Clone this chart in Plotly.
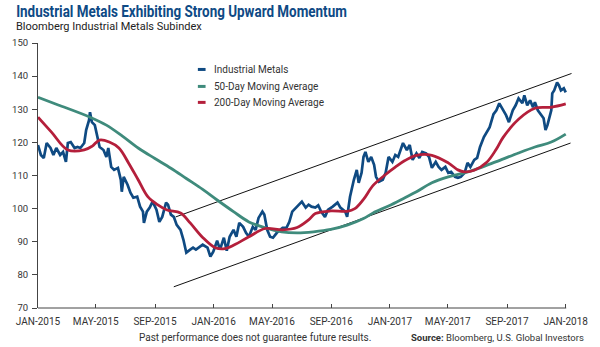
import plotly.graph_objects as go

# ---------------- DATA ----------------
metal_dates = [
    "2015-01-01", "2015-01-07", "2015-01-13", "2015-01-19", "2015-01-27", "2015-02-02", "2015-02-08",
    "2015-02-16", "2015-02-22", "2015-02-28", "2015-03-04", "2015-03-10", "2015-03-18", "2015-03-24",
    "2015-03-30", "2015-04-07", "2015-04-11", "2015-04-17", "2015-04-19", "2015-04-23", "2015-04-29",
    "2015-05-05", "2015-05-09", "2015-05-17", "2015-05-23", "2015-05-27", "2015-06-02", "2015-06-08",
    "2015-06-16", "2015-06-22", "2015-06-24", "2015-06-28", "2015-07-06", "2015-07-12", "2015-07-18",
    "2015-07-26", "2015-08-01", "2015-08-07", "2015-08-09", "2015-08-15", "2015-08-21", "2015-08-27",
    "2015-09-04", "2015-09-10", "2015-09-16", "2015-09-24", "2015-09-28", "2015-10-04", "2015-10-10",
    "2015-10-16", "2015-10-24", "2015-10-30", "2015-11-05", "2015-11-13", "2015-11-19", "2015-11-25",
    "2015-12-03", "2015-12-09", "2015-12-19", "2015-12-25", "2015-12-31",
    "2016-01-08", "2016-01-14", "2016-01-22", "2016-01-28", "2016-02-03", "2016-02-11", "2016-02-17",
    "2016-02-23", "2016-03-02", "2016-03-08", "2016-03-14", "2016-03-22", "2016-03-28", "2016-04-03",
    "2016-04-11", "2016-04-15", "2016-04-21", "2016-04-27", "2016-05-03", "2016-05-11", "2016-05-17",
    "2016-05-23", "2016-05-31", "2016-06-06", "2016-06-12", "2016-06-20", "2016-06-26", "2016-07-02",
    "2016-07-10", "2016-07-16", "2016-07-22", "2016-07-30", "2016-08-05", "2016-08-11", "2016-08-19",
    "2016-08-25", "2016-09-04", "2016-09-14", "2016-09-20", "2016-09-30", "2016-10-04", "2016-10-10",
    "2016-10-18", "2016-10-24", "2016-10-28", "2016-11-03", "2016-11-07", "2016-11-11", "2016-11-17",
    "2016-11-23", "2016-11-29", "2016-12-03", "2016-12-09", "2016-12-17", "2016-12-23", "2016-12-27",
    "2016-12-29",
    "2017-01-06", "2017-01-12", "2017-01-18", "2017-01-26", "2017-01-28", "2017-02-05", "2017-02-11",
    "2017-02-17", "2017-02-25", "2017-03-03", "2017-03-09", "2017-03-17", "2017-03-23", "2017-03-29",
    "2017-04-06", "2017-04-12", "2017-04-18", "2017-04-26", "2017-05-02", "2017-05-08", "2017-05-16",
    "2017-05-22", "2017-05-28", "2017-06-05", "2017-06-11", "2017-06-17", "2017-06-25", "2017-07-01",
    "2017-07-07", "2017-07-15", "2017-07-21", "2017-07-27", "2017-08-04", "2017-08-10", "2017-08-16",
    "2017-08-24", "2017-08-30", "2017-09-05", "2017-09-13", "2017-09-19", "2017-09-25", "2017-10-03",
    "2017-10-07", "2017-10-13", "2017-10-19", "2017-10-25", "2017-10-29", "2017-11-04", "2017-11-12",
    "2017-11-16", "2017-11-20", "2017-11-24", "2017-12-02", "2017-12-04", "2017-12-08", "2017-12-14",
    "2017-12-18", "2017-12-22", "2017-12-28", "2018-01-01",
]
metal_values = [
    119.2, 116.2, 115.3, 119.8, 118.3, 116.2, 118.3,
    116.2, 117.1, 114.1, 119.8, 120.1, 118.3, 118.6,
    118.3, 119.8, 123.7, 126.7, 129.1, 126.1, 125.2,
    120.7, 118.6, 117.7, 115.6, 118.3, 112.6, 111.7,
    112.3, 108.7, 105.1, 109.6, 107.2, 104.8, 103.3,
    103.6, 100.6, 99.1, 95.7, 99.1, 100.3, 102.1,
    99.7, 96.0, 97.5, 101.8, 101.2, 98.2, 97.5,
    95.1, 93.6, 90.6, 86.7, 87.6, 88.2, 87.6,
    88.5, 89.1, 88.2, 85.5, 87.0,
    90.3, 87.6, 91.2, 87.3, 91.5, 93.6, 91.5,
    95.7, 94.5, 92.7, 91.5, 94.5, 93.6, 97.2,
    99.1, 98.2, 93.6, 91.5, 91.2, 92.7, 93.6,
    94.2, 94.2, 96.0, 99.1, 100.3, 101.2, 102.1,
    100.3, 101.2, 100.6, 100.3, 101.0, 99.1, 97.5,
    99.6, 100.6, 101.8, 100.3, 99.1, 97.5, 103.6,
    108.7, 111.7, 107.8, 110.8, 115.6, 117.1, 114.1,
    115.6, 113.2, 109.6, 108.1, 108.7, 110.8, 114.7,
    115.6,
    114.1, 116.2, 115.6, 119.2, 119.8, 117.7, 119.2,
    114.7, 116.7, 115.3, 117.1, 116.7, 115.6, 112.3,
    114.1, 112.6, 111.7, 112.6, 110.8, 111.1, 109.6,
    109.3, 109.6, 110.8, 113.8, 112.6, 114.7, 115.3,
    118.6, 121.6, 123.1, 124.6, 128.5, 129.7, 131.8,
    129.7, 128.2, 126.1, 129.7, 131.2, 133.3, 131.8,
    134.2, 131.2, 132.7, 130.6, 132.1, 129.7, 128.2,
    127.3, 123.7, 125.2, 129.7, 134.8, 135.7, 138.1,
    137.2, 135.7, 136.3, 135.1,
]

ma50_dates = [
    "2015-01-01", "2015-02-12", "2015-04-19", "2015-05-23", "2015-06-26", "2015-07-28", "2015-08-31",
    "2015-10-04", "2015-11-05", "2015-12-09", "2016-01-08", "2016-02-11", "2016-03-14", "2016-04-17",
    "2016-05-21", "2016-06-22", "2016-07-26", "2016-08-31", "2016-10-04", "2016-11-07", "2016-11-27",
    "2016-12-29", "2017-02-01", "2017-02-25", "2017-03-29", "2017-05-02", "2017-06-05", "2017-07-07",
    "2017-08-10", "2017-09-25", "2017-10-29", "2017-12-02", "2018-01-01",
]
ma50_values = [
    133.6, 131.3, 127.6, 125.2, 121.8, 118.3, 115.2,
    112.2, 109.1, 105.8, 102.6, 99.1, 96.0, 94.2,
    93.0, 92.7, 93.0, 93.7, 95.0, 97.0, 98.7,
    100.8, 103.3, 105.1, 107.8, 109.6, 110.8, 112.3,
    114.2, 116.8, 118.6, 120.1, 122.5,
]

ma200_dates = [
    "2015-01-01", "2015-01-29", "2015-03-04", "2015-04-07", "2015-04-23", "2015-05-09", "2015-05-29",
    "2015-06-18", "2015-07-08", "2015-07-28", "2015-08-17", "2015-09-06", "2015-09-26", "2015-10-24",
    "2015-11-13", "2015-12-09", "2016-01-04", "2016-01-24", "2016-02-13", "2016-03-14", "2016-04-17",
    "2016-05-23", "2016-06-22", "2016-07-16", "2016-07-30", "2016-08-31", "2016-10-04", "2016-10-20",
    "2016-11-07", "2016-11-27", "2016-12-23", "2017-01-12", "2017-02-01", "2017-02-25", "2017-03-29",
    "2017-05-02", "2017-05-22", "2017-06-05", "2017-06-25", "2017-07-21", "2017-08-10", "2017-08-24",
    "2017-09-25", "2017-10-29", "2017-12-02", "2018-01-01",
]
ma200_values = [
    127.6, 123.1, 117.7, 117.7, 118.8, 120.7, 120.1,
    118.3, 113.8, 108.7, 103.6, 101.2, 99.6, 98.7,
    95.7, 91.3, 88.2, 87.9, 89.1, 91.5, 94.0,
    93.6, 94.3, 96.6, 98.5, 99.3, 99.2, 100.0,
    102.8, 107.0, 110.3, 112.5, 114.5, 116.1, 116.1,
    113.8, 111.7, 111.1, 111.6, 114.0, 118.0, 121.5,
    127.0, 130.3, 130.6, 131.6,
]

channel_upper_dates = ["2015-10-14", "2018-01-13"]
channel_upper_values = [97.5, 140.8]
channel_lower_dates = ["2015-10-10", "2018-01-11"]
channel_lower_values = [76.4, 119.8]

x_tick_dates = ["2015-01-01", "2015-05-01", "2015-09-01", "2016-01-01", "2016-05-01",
                "2016-09-01", "2017-01-01", "2017-05-01", "2017-09-01", "2018-01-01"]
x_tick_labels = ["JAN-2015", "MAY-2015", "SEP-2015", "JAN-2016", "MAY-2016",
                 "SEP-2016", "JAN-2017", "MAY-2017", "SEP-2017", "JAN-2018"]
y_ticks = [70, 80, 90, 100, 110, 120, 130, 140, 150]

series_names = ["Industrial Metals", "50-Day Moving Average", "200-Day Moving Average"]

# ---------------- STYLE / LAYOUT ----------------
W, H = 600, 347
L, R, T, B = 29, 16.5, 42.5, 39
PW = W - L - R
PH = H - T - B

BLUE = "#0f4a82"
GREEN = "#3f8b7c"
RED = "#b41f3b"
TXT = "#333333"
FONT = "Roboto"


def px2x(px):
    return (px - L) / PW


def py2y(py):
    return (H - B - py) / PH


fig = go.Figure()

for d, v in ((channel_upper_dates, channel_upper_values), (channel_lower_dates, channel_lower_values)):
    fig.add_trace(go.Scatter(x=d, y=v, mode="lines", line=dict(color="#111111", width=1),
                             cliponaxis=False, showlegend=False, hoverinfo="skip"))

fig.add_trace(go.Scatter(x=metal_dates, y=metal_values, mode="lines", name=series_names[0],
                         line=dict(color=BLUE, width=2.7), showlegend=False))
fig.add_trace(go.Scatter(x=ma50_dates, y=ma50_values, mode="lines", name=series_names[1],
                         line=dict(color=GREEN, width=2.8, shape="spline", smoothing=1.0), showlegend=False))
fig.add_trace(go.Scatter(x=ma200_dates, y=ma200_values, mode="lines", name=series_names[2],
                         line=dict(color=RED, width=2.8, shape="spline", smoothing=1.0), showlegend=False))

shapes = []
annotations = []

# manual legend
legend_colors = [BLUE, GREEN, RED]
legend_rows = [69, 86, 102]
for name, col, yy in zip(series_names, legend_colors, legend_rows):
    shapes.append(dict(type="line", xref="paper", yref="paper",
                       x0=px2x(195), x1=px2x(203), y0=py2y(yy), y1=py2y(yy),
                       line=dict(color=col, width=3)))
    annotations.append(dict(xref="paper", yref="paper", x=px2x(210), y=py2y(yy),
                            xanchor="left", yanchor="middle", text=name, showarrow=False,
                            font=dict(family=FONT, size=10, color=TXT)))

# bottom axis line (ends at Jan 2018)
shapes.append(dict(type="line", xref="paper", yref="paper", x0=0, x1=px2x(577.5), y0=0, y1=0,
                   line=dict(color="#444444", width=1)))

# title / subtitle
annotations.append(dict(xref="paper", yref="paper", x=px2x(4), y=py2y(10.5), xanchor="left",
                        yanchor="middle", showarrow=False,
                        text="<b>Industrial Metals Exhibiting Strong Upward Momentum</b>",
                        font=dict(family=FONT, size=16, color="#0e4a85")))
annotations.append(dict(xref="paper", yref="paper", x=px2x(4), y=py2y(26), xanchor="left",
                        yanchor="middle", showarrow=False,
                        text="Bloomberg Industrial Metals Subindex",
                        font=dict(family=FONT, size=11, color="#222222")))
# footer
annotations.append(dict(xref="paper", yref="paper", x=px2x(254), y=py2y(337.5), xanchor="center",
                        yanchor="middle", showarrow=False,
                        text="Past performance does not guarantee future results.",
                        font=dict(family=FONT, size=10, color=TXT)))
annotations.append(dict(xref="paper", yref="paper", x=px2x(598), y=py2y(337.5), xanchor="right",
                        yanchor="middle", showarrow=False,
                        text="<b>Source:</b> Bloomberg, U.S. Global Investors",
                        font=dict(family=FONT, size=9.5, color=TXT)))

fig.update_layout(
    width=W, height=H,
    margin=dict(l=L, r=R, t=T, b=B, pad=0),
    paper_bgcolor="white", plot_bgcolor="white",
    showlegend=False,
    shapes=shapes,
    annotations=annotations,
    font=dict(family=FONT, size=10, color=TXT),
    xaxis=dict(
        type="date",
        range=["2015-01-01", "2018-01-14"],
        tickmode="array", tickvals=x_tick_dates, ticktext=x_tick_labels,
        ticks="inside", ticklen=4, tickcolor="#444444", tickwidth=1,
        showline=False, showgrid=False, zeroline=False,
        tickfont=dict(family=FONT, size=10, color=TXT),
        ticklabelstandoff=6,
    ),
    yaxis=dict(
        range=[70, 150],
        tickmode="array", tickvals=y_ticks,
        ticks="outside", ticklen=5, tickcolor="#444444", tickwidth=1,
        showline=True, linecolor="#444444", linewidth=1,
        showgrid=False, zeroline=False,
        tickfont=dict(family=FONT, size=9.5, color=TXT),
        ticklabelstandoff=2,
    ),
)

# condense the bold title horizontally (the original uses a condensed typeface)
post_script = """
(function(){
  var gd = document.getElementById('{plot_id}');
  function fix(){
    var texts = gd.querySelectorAll('text.annotation-text');
    texts.forEach(function(t){
      if (t.textContent.indexOf('Exhibiting') < 0) return;
      if (t.getAttribute('data-orig-tf') === null) {
        t.setAttribute('data-orig-tf', t.getAttribute('transform') || '');
      }
      var orig = t.getAttribute('data-orig-tf');
      t.setAttribute('transform', orig);
      var bb = t.getBBox();
      var s = 331 / bb.width;
      t.setAttribute('transform', orig + ' translate(' + bb.x + ',0) scale(' + s + ',1) translate(' + (-bb.x) + ',0)');
    });
  }
  fix();
  if (document.fonts && document.fonts.ready) { document.fonts.ready.then(fix); }
  setTimeout(fix, 300);
})();
"""

fig.write_html("out.html", post_script=post_script)
